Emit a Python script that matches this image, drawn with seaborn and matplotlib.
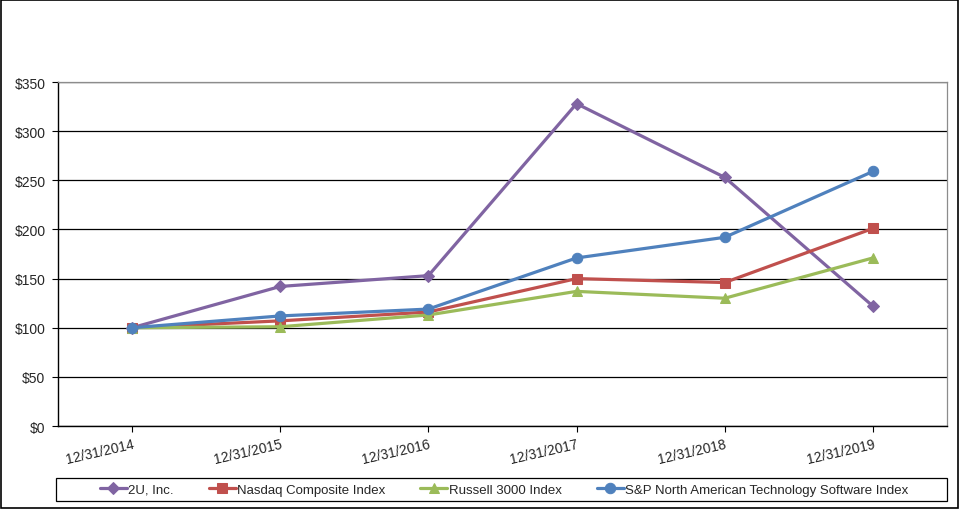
import pandas as pd
import matplotlib
matplotlib.use('Agg')
import matplotlib.pyplot as plt
import matplotlib.transforms as mtransforms
import seaborn as sns

# 数据
dates = ['12/31/2014', '12/31/2015', '12/31/2016', '12/31/2017', '12/31/2018', '12/31/2019']
twou = [100, 142, 153, 328, 253, 122]
nasdaq = [100, 107, 116, 150, 146, 201]
russell = [100, 101, 113, 137, 130, 171]
sp_software = [100, 112, 119, 171, 192, 259]

series = [
    ('2U, Inc.', twou, '#8064A2', 'D', 6),
    ('Nasdaq Composite Index', nasdaq, '#C0504D', 's', 6.5),
    ('Russell 3000 Index', russell, '#9BBB59', '^', 7.5),
    ('S&P North American Technology Software Index', sp_software, '#4F81BD', 'o', 7.5),
]

sns.set_style('white')
plt.rcParams['font.family'] = ['Liberation Sans', 'DejaVu Sans']

fig = plt.figure(figsize=(9.6, 5.1), dpi=100)
ax = fig.add_axes([0.0604, 0.1627, 0.926, 0.6745])

for name, vals, color, marker, ms in series:
    df = pd.DataFrame({'x': range(len(dates)), 'y': vals})
    sns.lineplot(data=df, x='x', y='y', ax=ax, color=color, marker=marker,
                 markersize=ms, markeredgecolor=color, linewidth=2.3, label=name)

ax.set_xlim(-0.5, len(dates) - 0.5)
ax.set_ylim(0, 350)
ax.set_yticks(range(0, 351, 50))
ax.set_yticklabels([f'${v}' for v in range(0, 351, 50)], fontsize=10)
ax.set_xticks(range(len(dates)))
ax.set_xticklabels(dates, fontsize=10, rotation=13, ha='right', rotation_mode='anchor')
offset = mtransforms.ScaledTranslation(3 / 100, -4 / 100, fig.dpi_scale_trans)
for lbl in ax.get_xticklabels():
    lbl.set_transform(lbl.get_transform() + offset)
ax.set_xlabel('')
ax.set_ylabel('')

ax.yaxis.grid(True, color='black', linewidth=0.9)
ax.set_axisbelow(True)
ax.tick_params(axis='both', direction='out', length=4, width=0.8, color='black',
               left=True, bottom=True)
ax.tick_params(axis='y', pad=5)
for side in ['left', 'bottom']:
    ax.spines[side].set_color('black')
    ax.spines[side].set_linewidth(1)
for side in ['top', 'right']:
    ax.spines[side].set_color('#8c8c8c')
    ax.spines[side].set_linewidth(0.9)

# 图例
leg = ax.legend(loc='center', bbox_to_anchor=(504 / 960, 0.038), bbox_transform=fig.transFigure,
                ncol=4, fontsize=9.5, frameon=False, borderpad=0, columnspacing=2.65,
                handlelength=2.05, handletextpad=0.1, borderaxespad=0)
fig.patches.append(plt.Rectangle((56 / 960, 1 - 502 / 510), 891 / 960, 23 / 510,
                                 transform=fig.transFigure, fill=False,
                                 edgecolor='black', linewidth=0.9))

# 外框
fig.patches.append(plt.Rectangle((0.001, 0.002), 0.997, 0.996, transform=fig.transFigure,
                                 fill=False, edgecolor='black', linewidth=1.2))

fig.savefig('out.png', dpi=100)
plt.close(fig)
